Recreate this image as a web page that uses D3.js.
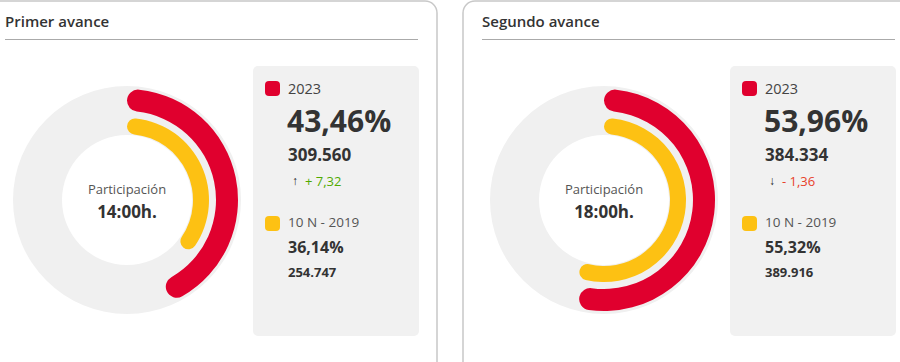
<!DOCTYPE html>
<html>
<head>
<meta charset="utf-8">
<script src="https://cdn.jsdelivr.net/npm/d3@7"></script>
<style>
  body { margin: 0; background: #fff; }
  svg { display: block; font-family: "Open Sans", sans-serif; }
</style>
</head>
<body>
<div id="chart"></div>
<script>
// data
var titles = ["Primer avance", "Segundo avance"];
var horas = ["14:00h.", "18:00h."];
var pct2023 = [43.46, 53.96];
var votos2023 = [309560, 384334];
var dif = [7.32, -1.36];
var pct2019 = [36.14, 55.32];
var votos2019 = [254747, 389916];
var series = ["2023", "10 N - 2019"];

function init() {
    var w = 900, h = 362;
    var es = d3.formatLocale({decimal: ",", thousands: ".", grouping: [3], currency: ["", "€"]});
    var fPct = es.format(",.2f");
    var fNum = es.format(",d");

    var red = "#e0002e", yellow = "#fdc113";

    var svg = d3.select("#chart").append("svg")
        .attr("width", w).attr("height", h);

    // angle scale for the rings
    var angle = d3.scaleLinear().domain([0, 100]).range([0, 2 * Math.PI]);

    var bg = d3.arc().innerRadius(65).outerRadius(114).startAngle(0).endAngle(2 * Math.PI);
    var arcRed = d3.arc().innerRadius(89).outerRadius(111).cornerRadius(11).startAngle(0);
    var arcYel = d3.arc().innerRadius(66).outerRadius(82).cornerRadius(8).startAngle(0);

    // panel positions
    var panelX = [0, 463];

    titles.forEach(function(t, i) {
        var g = svg.append("g").attr("transform", "translate(" + panelX[i] + ",0)");

        // panel border
        if (i == 0) {
            g.append("rect").attr("x", -30).attr("y", 1).attr("width", 467).attr("height", 380)
                .attr("rx", 12).attr("fill", "none").attr("stroke", "#c8c8c8").attr("stroke-width", 1.5);
        } else {
            g.append("rect").attr("x", 0).attr("y", 1).attr("width", 480).attr("height", 380)
                .attr("rx", 12).attr("fill", "none").attr("stroke", "#c8c8c8").attr("stroke-width", 1.5);
        }

        var ox = i == 0 ? 5 : 19;
        g.append("text").attr("x", ox).attr("y", 27)
            .attr("font-size", 15).attr("font-weight", 600).attr("fill", "#333")
            .text(t);
        g.append("line").attr("x1", ox).attr("x2", ox + 413).attr("y1", 39.5).attr("y2", 39.5)
            .attr("stroke", "#aaa").attr("stroke-width", 1);

        // donut
        var cx = i == 0 ? 127 : 141;
        var d = g.append("g").attr("transform", "translate(" + cx + ",200)");
        d.append("path").attr("d", bg()).attr("fill", "#f0f0f0");
        d.append("path").attr("d", arcRed({endAngle: angle(pct2023[i])})).attr("fill", red);
        d.append("path").attr("d", arcYel({endAngle: angle(pct2019[i])})).attr("fill", yellow);
        d.append("text").attr("text-anchor", "middle").attr("y", -6)
            .attr("font-size", 13).attr("fill", "#555").text("Participación");
        d.append("text").attr("text-anchor", "middle").attr("y", 18)
            .attr("font-size", 17).attr("font-weight", 700).attr("fill", "#333").text(horas[i]);

        // info box
        var bx = i == 0 ? 253 : 267;
        var b = g.append("g").attr("transform", "translate(" + bx + ",66)");
        b.append("rect").attr("width", 166).attr("height", 270).attr("rx", 5).attr("fill", "#f1f1f1");

        b.append("rect").attr("x", 12).attr("y", 15).attr("width", 15).attr("height", 15)
            .attr("rx", 4).attr("fill", red);
        b.append("text").attr("x", 35).attr("y", 28).attr("font-size", 14.5).attr("fill", "#444").text(series[0]);
        b.append("text").attr("x", 34).attr("y", 66).attr("font-size", 30).attr("font-weight", 700)
            .attr("fill", "#333").text(fPct(pct2023[i]) + "%");
        b.append("text").attr("x", 35).attr("y", 95).attr("font-size", 17).attr("font-weight", 700)
            .attr("fill", "#333").text(fNum(votos2023[i]));

        var up = dif[i] >= 0;
        b.append("text").attr("x", 39).attr("y", 119).attr("font-size", 12).attr("font-weight", 700)
            .attr("fill", "#222").text(up ? "↑" : "↓");
        b.append("text").attr("x", 52).attr("y", 120).attr("font-size", 13)
            .attr("fill", up ? "#50aa00" : "#e8412a")
            .text((up ? "+ " : "- ") + fPct(Math.abs(dif[i])));

        b.append("rect").attr("x", 12).attr("y", 150).attr("width", 15).attr("height", 15)
            .attr("rx", 4).attr("fill", yellow);
        b.append("text").attr("x", 35).attr("y", 161).attr("font-size", 13.5).attr("fill", "#555").text(series[1]);
        b.append("text").attr("x", 35).attr("y", 187).attr("font-size", 16).attr("font-weight", 700)
            .attr("fill", "#333").text(fPct(pct2019[i]) + "%");
        b.append("text").attr("x", 35).attr("y", 211).attr("font-size", 13).attr("font-weight", 700)
            .attr("fill", "#333").text(fNum(votos2019[i]));
    });
}

window.onload = init;
</script>
</body>
</html>
